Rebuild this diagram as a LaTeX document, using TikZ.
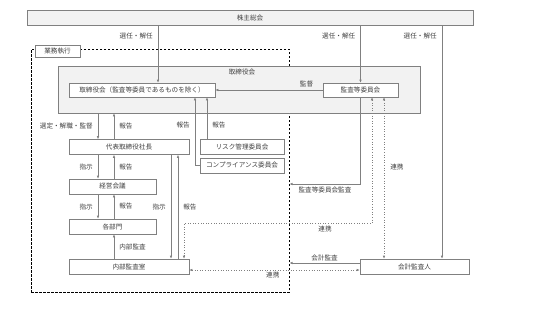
\documentclass[tikz,border=0pt]{standalone}
\usepackage{fontspec}
\newfontfamily\jpfont{Noto Sans CJK JP}
\usetikzlibrary{positioning,arrows.meta}
\definecolor{gInk}{HTML}{404040}
\definecolor{gLine}{HTML}{808080}
\definecolor{gFill}{HTML}{F2F2F2}
\begin{document}
\begin{tikzpicture}[x=1pt,y=-1pt,
  box/.style={draw=gLine, fill=white, text=gInk, minimum height=15pt, inner sep=0pt, line width=0.6pt, font=\jpfont\fontsize{6.6}{7}\selectfont},
  lbl/.style={text=gInk, inner sep=1pt, font=\jpfont\fontsize{6.6}{7}\selectfont},
  ln/.style={draw=gLine, line width=0.6pt},
  arr/.style={ln, -{Latex[length=3pt,width=2.6pt]}},
  darr/.style={ln, dotted, {Latex[length=3pt,width=2.6pt]}-{Latex[length=3pt,width=2.6pt]}}]
  \useasboundingbox (0,0) rectangle (537,319);
  \node[box, fill=gFill, minimum width=446pt] (soukai) at (250,17.5) {株主総会};
  \node[draw, line width=1pt, dash pattern=on 2.5pt off 1.5pt, minimum width=258pt, minimum height=243pt] (gyomu) at (160,170.5) {};
  \node[box, minimum width=45pt, minimum height=12pt] (gyomuLbl) at (57.5,51) {業務執行};
  \node[box, fill=gFill, minimum width=362pt, minimum height=47pt,
    label={[lbl, anchor=north, xshift=3pt, yshift=-2pt]north:取締役会}] (torikai) at (239,89.5) {};
  \node[box, minimum width=146pt, minimum height=14pt] (torishimari) at (142,90) {取締役会（監査等委員であるものを除く）};
  \node[box, minimum width=75pt, minimum height=14pt] (kansa) at (360.5,90) {監査等委員会};
  \node[box, minimum width=120pt] (daihyo) at (129,147) {代表取締役社長};
  \node[box, minimum width=84pt] (risk) at (242,146.5) {リスク管理委員会};
  \node[box, minimum width=84pt] (comp) at (242,165.5) {コンプライアンス委員会};
  \node[box, minimum width=87pt] (keiei) at (112.5,186.5) {経営会議};
  \node[box, minimum width=87pt] (bumon) at (112.5,226.5) {各部門};
  \node[box, minimum width=120pt] (naibu) at (129,266.5) {内部監査室};
  \node[box, minimum width=109pt] (kaikei) at (414.5,266.5) {会計監査人};

  \draw[arr] (soukai.south -| 158,0) -- node[lbl, pos=0.19, left=4pt] {選任・解任} (torishimari.north -| 158,0);
  \draw[arr] (soukai.south -| kansa.north) -- node[lbl, pos=0.19, left=4pt] {選任・解任} (kansa.north);
  \draw[arr] (soukai.south -| 442,0) -- node[lbl, pos=0.047, left=4pt] {選任・解任} (kaikei.north -| 442,0);
  \draw[arr] (kansa.west) -- node[lbl, pos=0.15, above=2pt] {監督} (torishimari.east);
  \draw[arr] (kansa.south) |- node[lbl, pos=0.75, below=2pt] {監査等委員会監査} (gyomu.east |- 0,184);
  \draw[darr] (kansa.south -| 384,0) -- node[lbl, pos=0.43, right=5pt] {連携} (kaikei.north -| 384,0);
  \draw[darr] (kansa.south -| 372,0) -- (372,223) -- node[lbl, pos=0.25, below=2pt] {連携} (184,223) -- (naibu.north -| 184,0);
  \draw[arr] (kaikei.west |- 0,263) -- node[lbl, pos=0.5, above=1pt] {会計監査} (gyomu.east |- 0,263);
  \draw[darr] (naibu.east |- 0,270) -- node[lbl, pos=0.49, below=1pt] {連携} (kaikei.west |- 0,270);

  \draw[arr] (torikai.south -| 98,0) -- node[lbl, left=4pt] {選定・解職・監督} (daihyo.north -| 98,0);
  \draw[arr] (daihyo.north -| 114,0) -- node[lbl, right=4pt] {報告} (torikai.south -| 114,0);
  \draw[arr] (comp.west) -| node[lbl, pos=0.8, left=4pt] {報告} (torishimari.south -| 195,0);
  \draw[arr] (risk.north -| 207,0) -- node[lbl, pos=0.32, right=4pt] {報告} (torishimari.south -| 207,0);
  \draw[arr] (daihyo.south -| 98,0) -- node[lbl, left=4pt] {指示} (keiei.north -| 98,0);
  \draw[arr] (keiei.north -| 114,0) -- node[lbl, right=4pt] {報告} (daihyo.south -| 114,0);
  \draw[arr] (keiei.south -| 98,0) -- node[lbl, left=4pt] {指示} (bumon.north -| 98,0);
  \draw[arr] (bumon.north -| 114,0) -- node[lbl, right=4pt] {報告} (keiei.south -| 114,0);
  \draw[arr] (daihyo.south -| 171,0) -- node[lbl, pos=0.5, left=4pt] {指示} (naibu.north -| 171,0);
  \draw[arr] (naibu.north -| 178,0) -- node[lbl, pos=0.5, right=4pt] {報告} (daihyo.south -| 178,0);
  \draw[arr] (naibu.north -| 114,0) -- node[lbl, right=4pt] {内部監査} (bumon.south -| 114,0);
\end{tikzpicture}
\end{document}
